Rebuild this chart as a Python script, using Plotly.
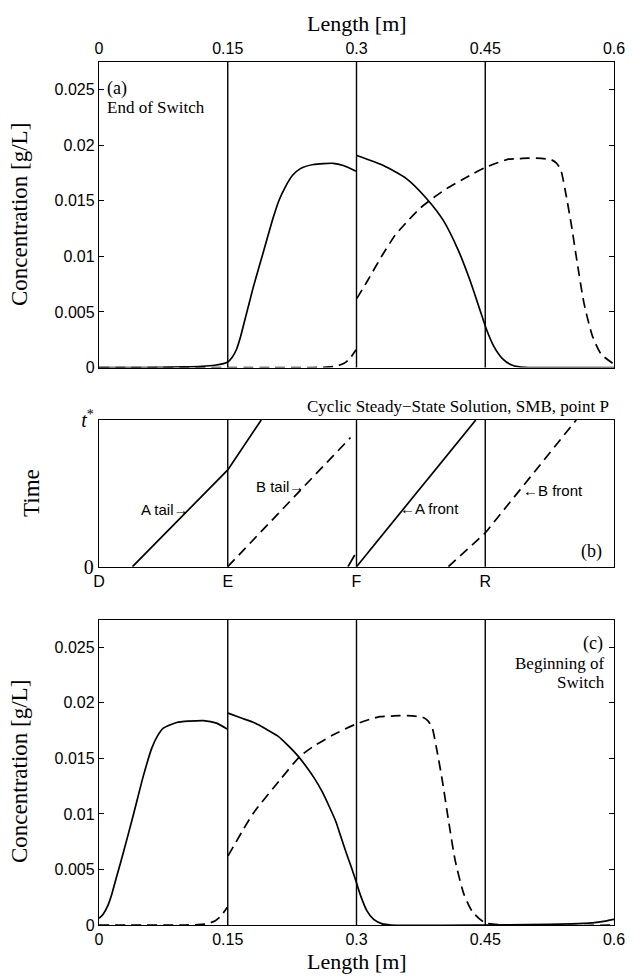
import plotly.graph_objects as go

# ---------------- data ----------------
ports = [0.15, 0.30, 0.45]
x_ticks = [0, 0.15, 0.3, 0.45, 0.6]
x_ticktext = ["0", "0.15", "0.3", "0.45", "0.6"]
y_ticks = [0, 0.005, 0.01, 0.015, 0.02, 0.025]
y_ticktext = ["0", "0.005", "0.01", "0.015", "0.02", "0.025"]
b_tickvals = [0, 0.15, 0.3, 0.45]
b_ticktext = ["D", "E", "F", "R"]

# panel (a) End of Switch
a_A1_x = [0, 0.05, 0.1, 0.12, 0.135, 0.145, 0.15, 0.155, 0.16, 0.165, 0.17, 0.175, 0.18, 0.1915, 0.203, 0.21, 0.2167, 0.2255, 0.2342, 0.2497, 0.273, 0.2847, 0.2994]
a_A1_y = [0, 0, 0.00005, 0.0001, 0.0002, 0.00035, 0.0005, 0.0009, 0.0016, 0.0028, 0.0043, 0.0058, 0.0073, 0.0104, 0.0135, 0.0151, 0.0162, 0.0173, 0.01788, 0.01827, 0.01838, 0.01818, 0.01767]
a_A2_x = [0.3003, 0.3313, 0.3585, 0.3818, 0.4011, 0.4186, 0.4322, 0.4439, 0.4517, 0.46, 0.47, 0.48, 0.49, 0.5, 0.6]
a_A2_y = [0.01908, 0.01818, 0.01698, 0.01519, 0.01324, 0.01055, 0.00785, 0.00516, 0.00337, 0.0019, 0.0008, 0.00025, 0.00005, 0, 0]
a_B1_x = [0, 0.2, 0.25, 0.265, 0.275, 0.285, 0.292, 0.2995]
a_B1_y = [0, 0, 0, 0.00003, 0.0001, 0.00035, 0.0008, 0.0016]
a_B2_x = [0.3003, 0.312, 0.33, 0.345, 0.361, 0.375, 0.39, 0.405, 0.423, 0.437, 0.45, 0.465, 0.477, 0.49, 0.5, 0.515, 0.527, 0.533, 0.538, 0.543, 0.55, 0.557, 0.565, 0.575, 0.585, 0.6]
a_B2_y = [0.0062, 0.0077, 0.0101, 0.0119, 0.0133, 0.0144, 0.0153, 0.0161, 0.0169, 0.0175, 0.018, 0.01845, 0.01875, 0.0188, 0.01885, 0.01882, 0.0187, 0.0184, 0.0178, 0.016, 0.013, 0.0095, 0.0058, 0.0028, 0.0012, 0.0003]

# panel (b) cyclic steady state, time t / t*
b_Atail_x = [0.039, 0.15, 0.189]
b_Atail_t = [0, 0.66, 1.0]
b_Btail_x = [0.15, 0.293]
b_Btail_t = [0, 0.88]
b_Aprev_x = [0.29, 0.298]
b_Aprev_t = [0, 0.08]
b_Afront_x = [0.3, 0.439]
b_Afront_t = [0, 1.0]
b_Bfront_x = [0.407, 0.45, 0.556]
b_Bfront_t = [0, 0.23, 1.0]

# panel (c) Beginning of Switch
c_A1_x = [0, 0.005, 0.01, 0.015, 0.02, 0.0283, 0.04, 0.0516, 0.0614, 0.068, 0.0749, 0.0905, 0.105, 0.1215, 0.137, 0.1495]
c_A1_y = [0.0006, 0.001, 0.0017, 0.0028, 0.0042, 0.0065, 0.0099, 0.0134, 0.0159, 0.0170, 0.01772, 0.01823, 0.01835, 0.0184, 0.01817, 0.01763]
c_A2_x = [0.1503, 0.165, 0.181, 0.1955, 0.2085, 0.221, 0.232, 0.242, 0.251, 0.26, 0.2686, 0.276, 0.282, 0.288, 0.294, 0.3, 0.305, 0.312, 0.32, 0.33, 0.34, 0.45, 0.5, 0.55, 0.575, 0.59, 0.6]
c_A2_y = [0.01907, 0.01865, 0.0182, 0.0176, 0.0170, 0.0161, 0.0152, 0.0142, 0.0132, 0.0120, 0.0106, 0.0093, 0.0079, 0.0065, 0.0052, 0.0038, 0.0026, 0.0013, 0.0005, 0.0001, 0, 0, 0.00003, 0.0001, 0.0002, 0.00035, 0.0005]
c_B1_x = [0, 0.1, 0.115, 0.125, 0.135, 0.142, 0.1495]
c_B1_y = [0, 0, 0.00003, 0.0001, 0.00035, 0.0008, 0.0016]
c_B2_x = [0.1503, 0.1798, 0.2109, 0.234, 0.2497, 0.273, 0.3002, 0.315, 0.327, 0.34, 0.35, 0.365, 0.377, 0.383, 0.388, 0.393, 0.4, 0.407, 0.415, 0.425, 0.435, 0.45, 0.6]
c_B2_y = [0.00622, 0.01006, 0.01306, 0.01517, 0.01607, 0.01712, 0.01811, 0.0185, 0.01875, 0.0188, 0.01885, 0.01882, 0.0187, 0.0184, 0.0178, 0.016, 0.013, 0.0095, 0.0058, 0.0028, 0.0012, 0.0002, 0]

# ---------------- figure ----------------
W, H = 641, 979
ML, MR, MT, MB = 99, 27, 62, 54
PW, PH = W - ML - MR, H - MT - MB

def py2paper(py):
    return (H - MB - py) / PH

def px2paper(px):
    return (px - ML) / PW

LW = 1.7
DASH = "10px,6px"
fig = go.Figure()

def add(x, y, xa, ya, dash=None, smooth=False):
    line = dict(color="black", width=LW, dash=dash)
    if smooth:
        line.update(shape="spline", smoothing=0.6)
    fig.add_trace(go.Scatter(x=x, y=y, mode="lines", xaxis=xa, yaxis=ya, line=line,
                             showlegend=False, hoverinfo="skip"))

add(a_A1_x, a_A1_y, "x", "y", smooth=True)
add(a_A2_x, a_A2_y, "x", "y", smooth=True)
add(a_B1_x, a_B1_y, "x", "y", DASH, smooth=True)
add(a_B2_x, a_B2_y, "x", "y", DASH, smooth=True)

add(b_Atail_x, b_Atail_t, "x2", "y2")
add(b_Btail_x, b_Btail_t, "x2", "y2", DASH)
add(b_Aprev_x, b_Aprev_t, "x2", "y2")
add(b_Afront_x, b_Afront_t, "x2", "y2")
add(b_Bfront_x, b_Bfront_t, "x2", "y2", DASH)

add(c_A1_x, c_A1_y, "x3", "y3", smooth=True)
add(c_A2_x, c_A2_y, "x3", "y3", smooth=True)
add(c_B1_x, c_B1_y, "x3", "y3", DASH, smooth=True)
add(c_B2_x, c_B2_y, "x3", "y3", DASH, smooth=True)

shapes = []
for xr, yr in [("x", "y"), ("x2", "y2"), ("x3", "y3")]:
    for p in ports:
        shapes.append(dict(type="line", xref=xr, yref=yr + " domain", x0=p, x1=p, y0=0, y1=1,
                           line=dict(color="black", width=1.4)))

dom_a = [py2paper(367.5), 1.0]
dom_b = [py2paper(566.7), py2paper(420)]
dom_c = [0.0, py2paper(619.5)]

sans = "Liberation Sans, Arial, sans-serif"
serif = "Liberation Serif, Times New Roman, serif"
tickfont = dict(family=sans, size=16, color="black")

common_x = dict(range=[0, 0.6], showgrid=False, zeroline=False, showline=True, linecolor="black",
                linewidth=1.4, mirror=True, tickfont=tickfont, fixedrange=True)
common_y = dict(range=[0, 0.0275], showgrid=False, zeroline=False, showline=True, linecolor="black",
                linewidth=1.4, mirror="ticks", ticks="inside", ticklen=5, tickwidth=1.2,
                tickcolor="black", tickvals=y_ticks, ticktext=y_ticktext, tickfont=tickfont)

fig.update_layout(
    width=W, height=H, margin=dict(l=ML, r=MR, t=MT, b=MB),
    paper_bgcolor="white", plot_bgcolor="white", showlegend=False,
    xaxis=dict(common_x, domain=[0, 1], anchor="y", side="top", tickvals=x_ticks,
               ticktext=x_ticktext, ticks="inside", ticklen=5, tickcolor="black"),
    yaxis=dict(common_y, domain=dom_a, anchor="x"),
    xaxis2=dict(common_x, domain=[0, 1], anchor="y2", tickvals=b_tickvals,
                ticktext=b_ticktext, ticks=""),
    yaxis2=dict(range=[0, 1], domain=dom_b, anchor="x2", showgrid=False, zeroline=False,
                showline=True, linecolor="black", linewidth=1.4, mirror=True, ticks="",
                tickvals=[0, 1], ticktext=["0", "<i>t</i><sup>*</sup>"],
                tickfont=dict(family=serif, size=20, color="black")),
    xaxis3=dict(common_x, domain=[0, 1], anchor="y3", tickvals=x_ticks, ticktext=x_ticktext,
                ticks="inside", ticklen=5, tickcolor="black"),
    yaxis3=dict(common_y, domain=dom_c, anchor="x3"),
    shapes=shapes,
)

ann = []
def txt(text, x, y, size, family=serif, xanchor="center", yanchor="middle", angle=0, xref="paper", yref="paper"):
    ann.append(dict(text=text, x=x, y=y, xref=xref, yref=yref, showarrow=False,
                    xanchor=xanchor, yanchor=yanchor, textangle=angle,
                    font=dict(family=family, size=size, color="black")))

txt("Length [m]", 0.5, py2paper(24), 22)
txt("Length [m]", 0.5, py2paper(961), 22)
txt("Concentration [g/L]", px2paper(19), py2paper(215), 23, angle=-90)
txt("Concentration [g/L]", px2paper(19), py2paper(772), 23, angle=-90)
txt("Time", px2paper(31), py2paper(493), 23, angle=-90)
txt("(a)", px2paper(105), py2paper(88), 18, xanchor="left")
txt("End of Switch", px2paper(105), py2paper(107), 17, xanchor="left")
txt("Cyclic Steady\u2212State Solution, SMB, point P", px2paper(611), py2paper(407), 17, xanchor="right")
txt("(b)", px2paper(604), py2paper(551), 18, xanchor="right")
txt("(c)", px2paper(605), py2paper(643), 18, xanchor="right")
txt("Beginning of", px2paper(607), py2paper(663), 17, xanchor="right")
txt("Switch", px2paper(607), py2paper(682), 17, xanchor="right")

txt("A tail\u2192", 0.077, 0.387, 15, family=sans, xref="x2", yref="y2")
txt("B tail\u2192", 0.211, 0.55, 15, family=sans, xref="x2", yref="y2")
txt("\u2190A front", 0.385, 0.40, 15, family=sans, xref="x2", yref="y2")
txt("\u2190B front", 0.529, 0.52, 15, family=sans, xref="x2", yref="y2")

fig.update_layout(annotations=ann)
fig.write_html("out.html")
